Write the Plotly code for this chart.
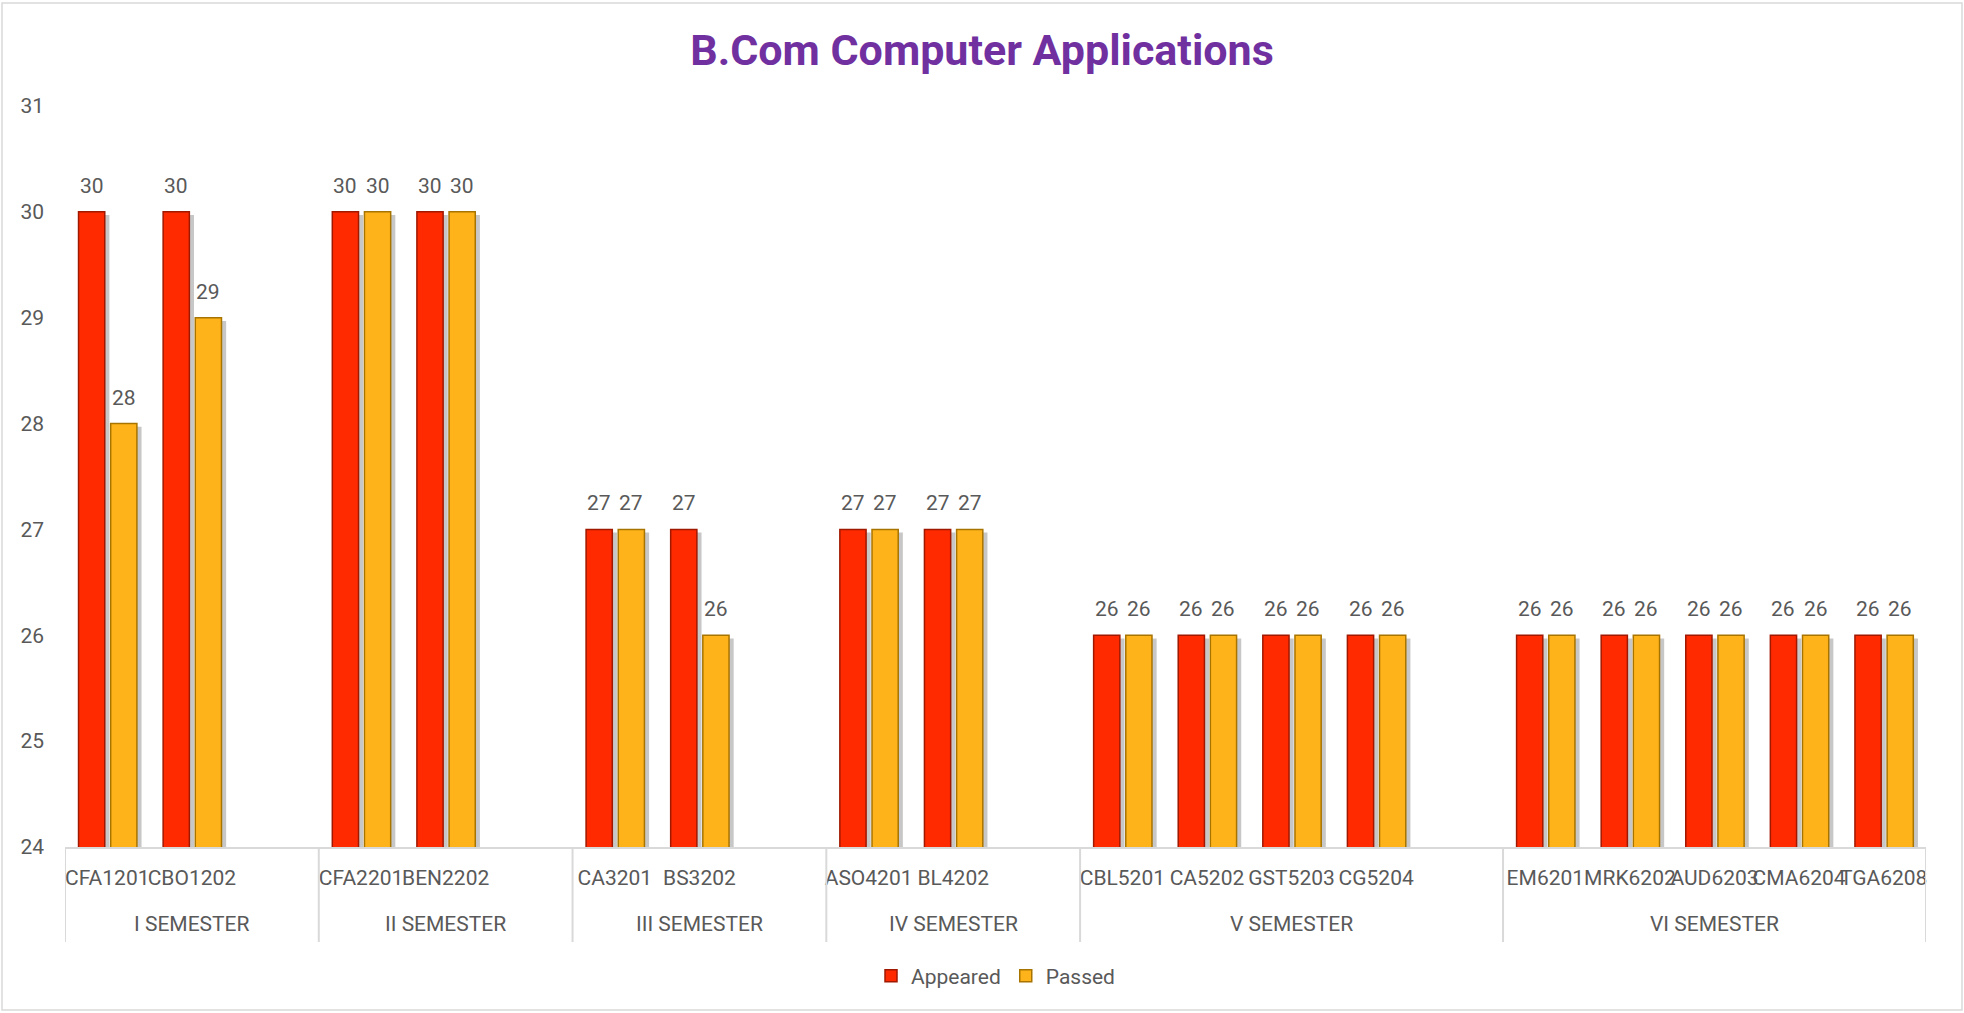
import plotly.graph_objects as go

semesters = ["I SEMESTER", "II SEMESTER", "III SEMESTER", "IV SEMESTER", "V SEMESTER", "VI SEMESTER"]
# "" marks an empty slot between semester groups
subjects = [
    ["CFA1201", "CBO1202", ""],
    ["CFA2201", "BEN2202", ""],
    ["CA3201", "BS3202", ""],
    ["ASO4201", "BL4202", ""],
    ["CBL5201", "CA5202", "GST5203", "CG5204", ""],
    ["EM6201", "MRK6202", "AUD6203", "CMA6204", "TGA6208"],
]
appeared = [
    [30, 30, None],
    [30, 30, None],
    [27, 27, None],
    [27, 27, None],
    [26, 26, 26, 26, None],
    [26, 26, 26, 26, 26],
]
passed = [
    [28, 29, None],
    [30, 30, None],
    [27, 26, None],
    [27, 27, None],
    [26, 26, 26, 26, None],
    [26, 26, 26, 26, 26],
]

FONT = "Liberation Sans Narrow, Arial Narrow, Roboto, sans-serif"
TXT = "#595959"
GRID = "#D9D9D9"

# flatten to slot positions
xs, ticktext, ya, yp, groups = [], [], [], [], []
i = 0
for s, subs, a, p in zip(semesters, subjects, appeared, passed):
    start = i
    for sub, av, pv in zip(subs, a, p):
        xs.append(i)
        ticktext.append(sub)
        ya.append(av)
        yp.append(pv)
        i += 1
    groups.append((s, start - 0.5, i - 0.5))

series = [
    ("Appeared", ya, "#FF2A00", "#A01800", -0.34, 0.31),
    ("Passed", yp, "#FFB31A", "#A87400", 0.04, 0.31),
]

PH = 741  # plot height in px

fig = go.Figure()
# soft shadows behind bars
for name, vals, col, lcol, off, w in series:
    fig.add_trace(go.Bar(
        x=xs, y=[None if v is None else v - 0.03 for v in vals],
        offset=off + 0.055, width=w, showlegend=False, hoverinfo="skip",
        marker=dict(color="rgba(0,0,0,0.22)", line=dict(width=0)),
    ))
for name, vals, col, lcol, off, w in series:
    fig.add_trace(go.Bar(
        x=xs, y=vals, name=name, offset=off, width=w,
        marker=dict(color=col, line=dict(color=lcol, width=1.5)),
    ))
    for x, v in zip(xs, vals):
        if v is None:
            continue
        fig.add_annotation(x=x + off + w / 2, y=v, text=str(v), showarrow=False,
                           yanchor="bottom", yshift=12,
                           font=dict(size=21, color=TXT, family=FONT))

# semester dividers and labels below the axis
for s, x0, x1 in groups:
    fig.add_annotation(x=(x0 + x1) / 2, y=-77 / PH, yref="paper", text=s,
                       showarrow=False, yanchor="middle",
                       font=dict(size=21, color=TXT, family=FONT))
bounds = sorted(set([g[1] for g in groups] + [g[2] for g in groups]))
for b in bounds:
    fig.add_shape(type="line", x0=b, x1=b, xref="x", yref="paper", y0=0, y1=-95 / PH,
                  line=dict(color=GRID, width=2))

fig.update_layout(
    width=1964, height=1013,
    margin=dict(l=65, r=38, t=106, b=166),
    paper_bgcolor="white", plot_bgcolor="white",
    barmode="overlay",
    title=dict(text="<b>B.Com Computer Applications</b>", x=0.5, xanchor="center",
               y=1 - 50 / 1013, yanchor="middle",
               font=dict(size=43, color="#7030A0", family=FONT)),
    font=dict(family=FONT, color=TXT, size=20),
    legend=dict(orientation="h", x=0.5, xanchor="center", y=-129 / PH, yanchor="middle",
                font=dict(size=21, color=TXT, family=FONT), traceorder="normal",
                itemwidth=30),
    showlegend=True,
)
fig.update_xaxes(
    range=[-0.5, len(xs) - 0.5], tickmode="array", tickvals=xs, ticktext=ticktext,
    tickangle=0, showgrid=False, zeroline=False,
    showline=True, linecolor=GRID, linewidth=2,
    tickfont=dict(size=21, color=TXT, family=FONT), ticks="",
    ticklabelstandoff=11,
)
fig.update_yaxes(
    range=[24, 31], dtick=1, tick0=24, showgrid=False, zeroline=False,
    showline=False, ticks="", tickfont=dict(size=21, color=TXT, family=FONT),
    ticklabelstandoff=20,
)
fig.add_shape(type="rect", xref="paper", yref="paper",
              x0=-63 / 1861, x1=1 + 36 / 1861, y0=-163 / PH, y1=1 + 103 / PH,
              line=dict(color=GRID, width=1.5), layer="below")

fig.write_html("out.html", config={"displayModeBar": False},
               post_script="document.body.style.margin='0px';document.body.style.overflow='hidden';")
